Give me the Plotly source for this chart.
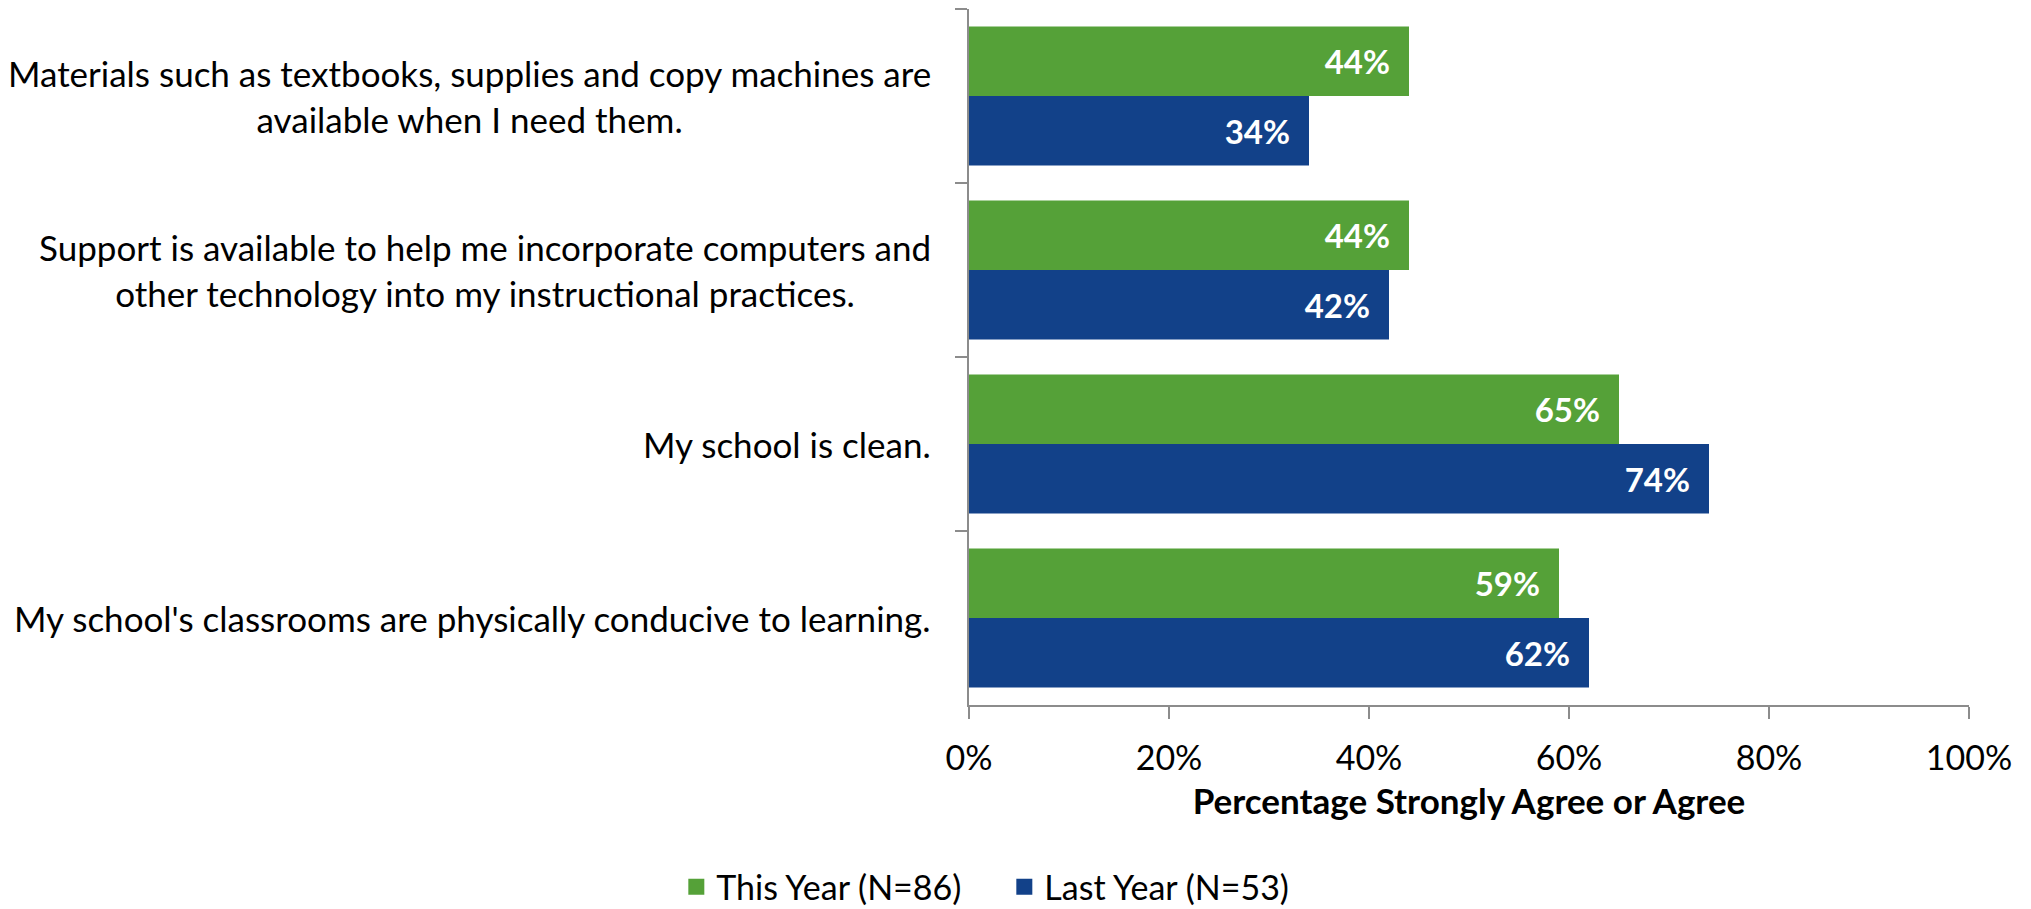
import plotly.graph_objects as go

categories = [
    "Materials such as textbooks, supplies and copy machines are<br>available when I need them.",
    "Support is available to help me incorporate computers and<br>other technology into my instructional practices.",
    "My school is clean.",
    "My school's classrooms are physically conducive to learning.",
]
this_year = [0.44, 0.44, 0.65, 0.59]
last_year = [0.34, 0.42, 0.74, 0.62]
series_names = ["This Year (N=86)", "Last Year (N=53)"]
x_ticks = [0, 0.2, 0.4, 0.6, 0.8, 1.0]

FONT = "Lato"
GREEN = "#55A138"
BLUE = "#124189"
AXIS = "#8C8C8C"

cat_keys = [c.replace("<br>", " ") for c in categories]

fig = go.Figure()
for name, vals, col in [(series_names[0], this_year, GREEN), (series_names[1], last_year, BLUE)]:
    fig.add_trace(go.Bar(
        y=cat_keys, x=vals, name=name, orientation="h", showlegend=False,
        marker=dict(color=col, line=dict(width=0)),
        texttemplate="%{x:.0%}\u00a0\u00a0", textposition="inside", insidetextanchor="end",
        textfont=dict(family=FONT, size=33, color="white", weight="bold"),
        cliponaxis=False,
    ))
# legend entries with square swatches
for name, col in [(series_names[0], GREEN), (series_names[1], BLUE)]:
    fig.add_trace(go.Scatter(
        x=[None], y=[None], mode="markers", name=name,
        marker=dict(symbol="square", size=20, color=col),
    ))

for key, label in zip(cat_keys, categories):
    fig.add_annotation(
        x=-0.036, xref="paper", y=key, yref="y", text=label, showarrow=False,
        xanchor="right", yanchor="middle", align="center",
        font=dict(family=FONT, size=35, color="black"),
    )

fig.update_layout(
    width=2031, height=909,
    margin=dict(l=969, r=62, t=9, b=204),
    paper_bgcolor="white", plot_bgcolor="white",
    barmode="group", bargap=0.2, bargroupgap=0,
    font=dict(family=FONT, size=34, color="black"),
    showlegend=True,
    legend=dict(orientation="h", xref="container", yref="container", x=0.333, y=0.024,
                xanchor="left", yanchor="middle", font=dict(family=FONT, size=34),
                traceorder="normal", itemwidth=30, entrywidth=283, entrywidthmode="pixels"),
)
fig.update_xaxes(
    range=[0, 1], tickvals=x_ticks, tickformat=".0%", showgrid=False, zeroline=False,
    showline=True, linecolor=AXIS, linewidth=2, ticks="outside", ticklen=12, tickcolor=AXIS, tickwidth=2,
    tickfont=dict(family=FONT, size=34), ticklabelstandoff=10,
    title=dict(text="<b>Percentage Strongly Agree or Agree</b>", font=dict(family=FONT, size=35), standoff=14),
)
fig.update_yaxes(
    autorange="reversed", showticklabels=False, showgrid=False, zeroline=False,
    showline=True, linecolor=AXIS, linewidth=2, ticks="outside", ticklen=12, tickcolor=AXIS, tickwidth=2,
    tickson="boundaries",
)

fig.write_html("out.html", config={"displayModeBar": False},
               post_script="document.body.style.margin='0';document.body.style.overflow='hidden';")
